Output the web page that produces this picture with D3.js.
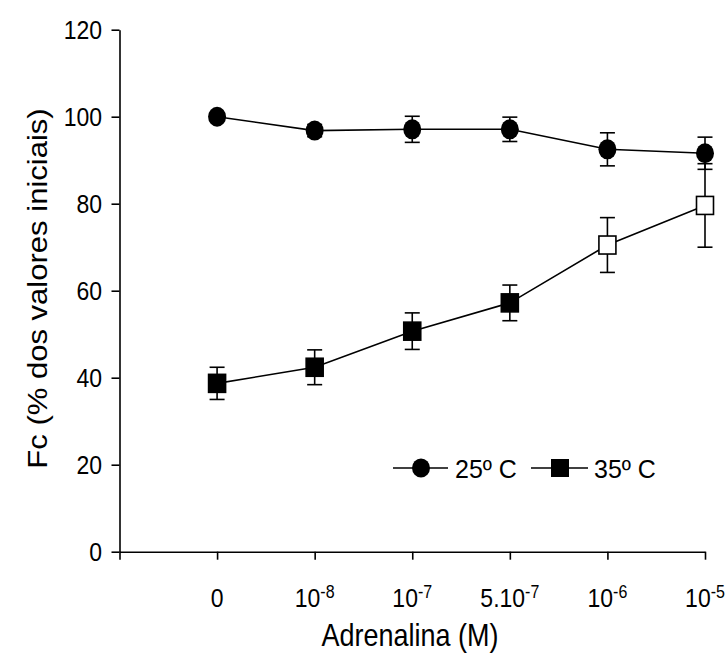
<!DOCTYPE html>
<html>
<head>
<meta charset="utf-8">
<script src="https://cdn.jsdelivr.net/npm/d3@7/dist/d3.min.js"></script>
<style>
  html, body { margin: 0; padding: 0; background: #fff; }
  svg { display: block; font-family: "Liberation Sans", Arial, sans-serif; }
</style>
</head>
<body>
<svg id="chart" width="728" height="659"></svg>
<script>
// ---- data ----
const categories = ["0", "1e-8", "1e-7", "5e-7", "1e-6", "1e-5"];
const tickBase = ["0", "10", "10", "5.10", "10", "10"];
const tickExp = ["", "-8", "-7", "-7", "-6", "-5"];
const yTicks = [0, 20, 40, 60, 80, 100, 120];

const values25 = [100, 96.8, 97.1, 97.1, 92.5, 91.6];
const errors25 = [0, 1.4, 3.0, 2.8, 3.8, 3.7];
const values35 = [38.7, 42.4, 50.7, 57.2, 70.5, 79.6];
const errors35 = [3.7, 4.0, 4.2, 4.1, 6.3, 9.6];
const open35 = [false, false, false, false, true, true];
const legendLabels = ["25º C", "35º C"];

// ---- layout ----
const svg = d3.select("#chart");
const x = d3.scaleLinear().domain([0, categories.length]).range([119.5, 705]);
const y = d3.scaleLinear().domain([0, 120]).range([551.7, 29.7]);
const SW = 1.6;

function stretchedText(g, tx, ty, str, size, anchor, k) {
  return g.append("text")
    .attr("transform", `translate(${tx},${ty}) scale(1,${k})`)
    .attr("text-anchor", anchor)
    .attr("font-size", size)
    .attr("fill", "#000")
    .text(str);
}

// y axis
const yAxis = svg.append("g")
  .attr("transform", `translate(${x(0)},0)`)
  .call(d3.axisLeft(y).tickValues(yTicks).tickSize(8).tickSizeOuter(0).tickFormat(""));
yAxis.select(".domain").attr("stroke", "#000").attr("stroke-width", SW);
yAxis.selectAll(".tick line").attr("stroke", "#000").attr("stroke-width", SW);
const yl = svg.append("g");
yTicks.forEach(v => stretchedText(yl, 102, y(v) + 9, String(v), 23, "end", 1.1));

// x axis
const xAxis = svg.append("g")
  .attr("transform", `translate(0,${y(0)})`)
  .call(d3.axisBottom(x).tickValues(d3.range(0, categories.length + 1)).tickSize(8).tickSizeOuter(0).tickFormat(""));
xAxis.select(".domain").attr("stroke", "#000").attr("stroke-width", SW);
xAxis.selectAll(".tick line").attr("stroke", "#000").attr("stroke-width", SW);

// x tick labels with superscripts
const xl = svg.append("g");
categories.forEach((c, i) => {
  const t = xl.append("text")
    .attr("transform", `translate(${x(i + 1)},607) scale(1,1.1)`)
    .attr("text-anchor", "middle")
    .attr("font-size", 23)
    .attr("fill", "#000");
  t.append("tspan").text(tickBase[i]);
  if (tickExp[i]) {
    t.append("tspan").attr("dy", -8).attr("font-size", 16).text(tickExp[i]);
  }
});

// axis titles
stretchedText(svg, 410, 646, "Adrenalina (M)", 27, "middle", 1.15);

svg.append("text")
  .attr("transform", `translate(47,${288.5}) rotate(-90) scale(1.15,1)`)
  .attr("text-anchor", "middle")
  .attr("font-size", 27)
  .attr("fill", "#000")
  .text("Fc (% dos valores iniciais)");

// lines
const line = d3.line().x((d, i) => x(i + 1)).y(d => y(d));
svg.append("path").datum(values35).attr("d", line)
  .attr("fill", "none").attr("stroke", "#000").attr("stroke-width", SW);
svg.append("path").datum(values25).attr("d", line)
  .attr("fill", "none").attr("stroke", "#000").attr("stroke-width", SW);

// error bars
function errorBars(vals, errs) {
  const g = svg.append("g").attr("stroke", "#000").attr("stroke-width", SW);
  vals.forEach((v, i) => {
    if (!errs[i]) return;
    const cx = x(i + 1);
    g.append("line").attr("x1", cx).attr("x2", cx).attr("y1", y(v - errs[i])).attr("y2", y(v + errs[i]));
    g.append("line").attr("x1", cx - 7.5).attr("x2", cx + 7.5).attr("y1", y(v + errs[i])).attr("y2", y(v + errs[i]));
    g.append("line").attr("x1", cx - 7.5).attr("x2", cx + 7.5).attr("y1", y(v - errs[i])).attr("y2", y(v - errs[i]));
  });
}
errorBars(values35, errors35);
errorBars(values25, errors25);

// markers
svg.append("g").selectAll("rect").data(values35).join("rect")
  .attr("x", (d, i) => x(i + 1) - 8.5)
  .attr("y", d => y(d) - 9)
  .attr("width", 17).attr("height", 18)
  .attr("fill", (d, i) => open35[i] ? "#fff" : "#000")
  .attr("stroke", "#000").attr("stroke-width", SW);

svg.append("g").selectAll("ellipse").data(values25).join("ellipse")
  .attr("cx", (d, i) => x(i + 1))
  .attr("cy", d => y(d))
  .attr("rx", 9).attr("ry", 10)
  .attr("fill", "#000");

// legend
const ly = 468;
const lg = svg.append("g");
lg.append("line").attr("x1", 393).attr("x2", 448).attr("y1", ly).attr("y2", ly).attr("stroke", "#000").attr("stroke-width", SW);
lg.append("ellipse").attr("cx", 421).attr("cy", ly).attr("rx", 9).attr("ry", 9.5).attr("fill", "#000");
stretchedText(lg, 455, ly + 10, legendLabels[0], 25, "start", 1.05);
lg.append("line").attr("x1", 531).attr("x2", 588).attr("y1", ly).attr("y2", ly).attr("stroke", "#000").attr("stroke-width", SW);
lg.append("rect").attr("x", 551).attr("y", ly - 9).attr("width", 18).attr("height", 18).attr("fill", "#000");
stretchedText(lg, 594, ly + 10, legendLabels[1], 25, "start", 1.05);
</script>
</body>
</html>
